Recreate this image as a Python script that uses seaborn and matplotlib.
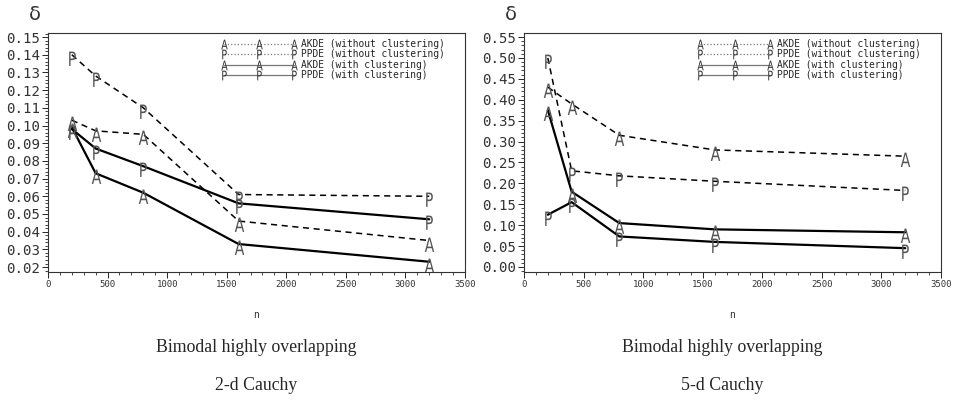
import matplotlib
matplotlib.use("Agg")
import matplotlib.pyplot as plt
import seaborn as sns
import pandas as pd
from matplotlib.lines import Line2D
from matplotlib.ticker import MultipleLocator
from matplotlib.textpath import TextPath
from matplotlib.path import Path
from matplotlib.font_manager import FontProperties

sns.set_style("ticks")
plt.rcParams['font.family'] = ['DejaVu Sans Mono', 'DejaVu Sans']

n_values = [200, 400, 800, 1600, 3200]

# Left panel: Bimodal highly overlapping 2-d Cauchy
left_akde_without = [0.103, 0.097, 0.095, 0.046, 0.035]
left_ppde_without = [0.140, 0.128, 0.110, 0.061, 0.060]
left_akde_with = [0.099, 0.073, 0.062, 0.033, 0.023]
left_ppde_with = [0.098, 0.087, 0.077, 0.056, 0.047]

# Right panel: Bimodal highly overlapping 5-d Cauchy
right_akde_without = [0.430, 0.390, 0.315, 0.280, 0.265]
right_ppde_without = [0.500, 0.230, 0.218, 0.205, 0.183]
right_akde_with = [0.375, 0.180, 0.105, 0.090, 0.083]
right_ppde_with = [0.125, 0.155, 0.073, 0.060, 0.045]

series_labels = ["AKDE (without clustering)", "PPDE (without clustering)",
                 "AKDE (with clustering)", "PPDE (with clustering)"]
series_letters = ["A", "P", "A", "P"]
caption_line1 = ["Bimodal highly overlapping", "Bimodal highly overlapping"]
caption_line2 = ["2-d Cauchy", "5-d Cauchy"]
left_yticks = [0.02, 0.03, 0.04, 0.05, 0.06, 0.07, 0.08, 0.09, 0.10, 0.11, 0.12, 0.13, 0.14, 0.15]
right_yticks = [0.00, 0.05, 0.10, 0.15, 0.20, 0.25, 0.30, 0.35, 0.40, 0.45, 0.50, 0.55]
xticks = [0, 500, 1000, 1500, 2000, 2500, 3000, 3500]


def letter_marker(ch, centered=False, top=0.2, xscale=0.72):
    tp = TextPath((0, 0), ch, size=1, prop=FontProperties(family='DejaVu Sans'))
    v = tp.vertices.copy()
    ext = tp.get_extents()
    cx = (ext.x0 + ext.x1) / 2
    v[:, 0] = (v[:, 0] - cx) * xscale
    if centered:
        v[:, 1] = v[:, 1] - (ext.y0 + ext.y1) / 2
    else:
        v[:, 1] = v[:, 1] - ext.y1 + top
    return Path(v, tp.codes)


W, H = 954, 405
fig = plt.figure(figsize=(W / 100, H / 100), dpi=100)
ax_w = (465 - 48) / W
ax_h = (272 - 33) / H
ax_b = 1 - 272 / H
ax1 = fig.add_axes([48 / W, ax_b, ax_w, ax_h])
ax2 = fig.add_axes([524 / W, ax_b, ax_w, ax_h])

panels = [
    (ax1, [left_akde_without, left_ppde_without, left_akde_with, left_ppde_with],
     left_yticks, (0.0172, 0.1523), 0.002),
    (ax2, [right_akde_without, right_ppde_without, right_akde_with, right_ppde_with],
     right_yticks, (-0.012, 0.5596), 0.01),
]

marker_color = "#555555"
for ax, data, yt, ylim, yminor in panels:
    for i, (vals, lab, let) in enumerate(zip(data, series_labels, series_letters)):
        df = pd.DataFrame({"n": n_values, "delta": vals})
        dashed = i < 2
        sns.lineplot(data=df, x="n", y="delta", ax=ax, color="black",
                     linestyle=(0, (4, 3)) if dashed else "-",
                     linewidth=1.1 if dashed else 1.6,
                     marker=letter_marker(let), markersize=15,
                     markeredgewidth=0, markerfacecolor=marker_color,
                     markeredgecolor=marker_color, legend=False)
    ax.set_xlim(0, 3500)
    ax.set_ylim(*ylim)
    ax.set_xticks(xticks)
    ax.set_xticklabels([str(x) for x in xticks], fontsize=6.5, color="#333333")
    ax.xaxis.set_minor_locator(MultipleLocator(100))
    ax.set_yticks(yt)
    ax.set_yticklabels(["%.2f" % v for v in yt], fontsize=10.2, color="#333333")
    ax.yaxis.set_minor_locator(MultipleLocator(yminor))
    ax.tick_params(axis='both', which='major', direction='out', length=4, width=0.7, pad=1.5)
    ax.tick_params(axis='both', which='minor', direction='out', length=2, width=0.6)
    for s in ax.spines.values():
        s.set_visible(True)
        s.set_linewidth(0.8)
        s.set_color("#333333")
    ax.set_xlabel("")
    ax.set_ylabel("")

    handles = []
    for i, (lab, let) in enumerate(zip(series_labels, series_letters)):
        handles.append(Line2D([0], [0], color="#777777",
                              linestyle=":" if i < 2 else "-",
                              linewidth=0.9, marker=letter_marker(let, centered=True),
                              markersize=7, markeredgewidth=0,
                              markerfacecolor="#333333", markeredgecolor="#333333",
                              label=lab))
    ax.legend(handles=handles, loc="upper left", bbox_to_anchor=(0.415, 0.975),
              frameon=False, numpoints=3, handlelength=7.9, handletextpad=0.4,
              labelspacing=0.05, borderpad=0.0, borderaxespad=0.0,
              prop={'family': 'DejaVu Sans Mono', 'size': 6.9})

for cx in (35, 511):
    fig.text(cx / W, 1 - 15 / H, "δ", fontsize=14, ha="center", va="center",
             family="DejaVu Sans", color="#333333")
for cx in (256, 732):
    fig.text(cx / W, 1 - 315 / H, "n", fontsize=7, ha="center", va="center",
             color="#333333")
for cx, c1, c2 in zip((256, 722), caption_line1, caption_line2):
    fig.text(cx / W, 1 - 347 / H, c1, fontsize=12.8, ha="center", va="center",
             family="Liberation Serif")
    fig.text(cx / W, 1 - 385 / H, c2, fontsize=12.8, ha="center", va="center",
             family="Liberation Serif")

fig.savefig("out.png", dpi=100)
